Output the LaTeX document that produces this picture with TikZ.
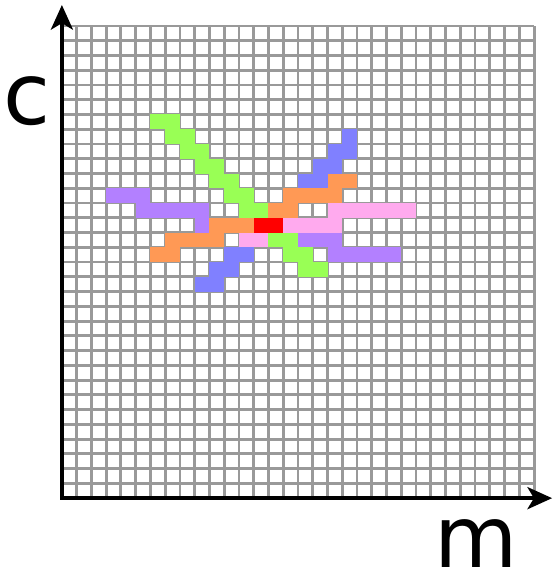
\documentclass[tikz,border=0pt]{standalone}
\usepackage{fontspec}
\usepackage{xcolor}
\usepackage{tikz}
\usetikzlibrary{arrows.meta}
\newfontfamily\axisfont{DejaVu Sans}
\definecolor{cellgreen}{RGB}{153,255,85}
\definecolor{cellpurple}{RGB}{179,128,255}
\definecolor{cellorange}{RGB}{255,153,85}
\definecolor{cellblue}{RGB}{128,128,255}
\definecolor{cellpink}{RGB}{255,170,238}
\definecolor{cellred}{RGB}{255,0,0}
\definecolor{gridgray}{RGB}{153,153,153}

\begin{document}
\begin{tikzpicture}[
x=0.4cm,y=0.4cm,
gridline/.style={
draw=gridgray,
line width=2.2pt
},
axis/.style={
{Stealth[length=19pt,width=17pt,inset=5pt]}-{Stealth[length=19pt,width=17pt,inset=5pt]},
line width=3pt,
draw=black
},
axislabel/.style={
inner sep=0pt,
anchor=base,
font=\axisfont\fontsize{66}{80}\selectfont
}
]

\useasboundingbox (-4.195,-5.14) rectangle (33.35,33.76);

\draw[gridline,step=1] (0,0) grid (32,32);

% cells: column / row counted from the top
\foreach \i/\j in {6/6,7/6,7/7,8/7,8/8,9/8,9/9,10/9,10/10,11/10,11/11,12/11,12/12,13/12,
14/14,15/14,15/15,16/15,16/16,17/16}
\fill[cellgreen] (\i,{31-\j}) rectangle ++(1,1);

\foreach \i/\j in {3/11,4/11,5/11,5/12,6/12,7/12,8/12,9/12,9/13,
16/14,17/14,18/14,18/15,19/15,20/15,21/15,22/15}
\fill[cellpurple] (\i,{31-\j}) rectangle ++(1,1);

\foreach \i/\j in {18/10,19/10,15/11,16/11,17/11,18/11,14/12,15/12,10/13,11/13,12/13,
7/14,8/14,9/14,10/14,6/15,7/15}
\fill[cellorange] (\i,{31-\j}) rectangle ++(1,1);

\foreach \i/\j in {19/7,18/8,19/8,17/9,18/9,16/10,17/10,
11/15,12/15,10/16,11/16,9/17,10/17}
\fill[cellblue] (\i,{31-\j}) rectangle ++(1,1);

\foreach \i/\j in {18/12,19/12,20/12,21/12,22/12,23/12,15/13,16/13,17/13,18/13,12/14,13/14}
\fill[cellpink] (\i,{31-\j}) rectangle ++(1,1);

\foreach \i/\j in {13/13,14/13}
\fill[cellred] (\i,{31-\j}) rectangle ++(1,1);

\coordinate (origin) at (0,0);
\coordinate (ctip) at (0,33.42);
\coordinate (mtip) at (33.22,0);

\draw[axis] (ctip) -- (origin) -- (mtip);

\node[axislabel] (clabel) at (-2.37,25.35) {c};
\node[axislabel] (mlabel) at (28.1,-4.7) {m};

\end{tikzpicture}
\end{document}
